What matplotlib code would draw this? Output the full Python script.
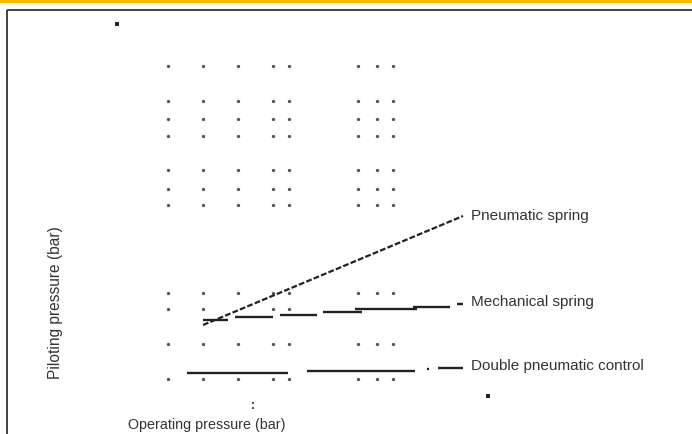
import matplotlib
matplotlib.use("Agg")
import matplotlib.pyplot as plt

# --------------------------------------------------------------------------
# Data (chart has no numeric scale -> values kept in drawing units)
# --------------------------------------------------------------------------
grid_cols = [168, 203, 238, 273, 289, 358, 377, 393]
grid_rows = [66, 101, 119, 136, 170, 189, 205, 293, 309, 344, 379]
grid_skip = [(238, 309), (358, 309), (377, 309), (393, 309)]   # hidden by lines

pneu_x = [203, 463]
pneu_y = [325, 216]

mech_x0 = [203, 235, 280, 323, 355, 413, 457]
mech_x1 = [228, 273, 317, 362, 417, 450, 463]
mech_y  = [320, 317.3, 315, 311.7, 309, 306.7, 304.3]

dbl_x0 = [187, 307, 427, 438]
dbl_x1 = [288, 415, 429, 463]
dbl_y  = [373.3, 371, 369.3, 368.3]

stray_x = [117, 488]
stray_y = [24, 396]
colon_x = [253, 253]
colon_y = [403, 408]

labels   = ["Pneumatic spring", "Mechanical spring", "Double pneumatic control"]
label_y  = [216, 302, 366]
label_x  = 471

FONT = ["Liberation Sans", "DejaVu Sans"]
INK = "#222222"

fig = plt.figure(figsize=(6.92, 4.34), dpi=100)
ax = fig.add_axes([0, 0, 1, 1])
ax.set_xlim(0, 692)
ax.set_ylim(434, 0)
ax.axis("off")

# frame: orange strip, black top rule and left rule
ax.axhspan(0, 2.5, color="#F7B900", lw=0)
ax.plot([6.5, 692], [10, 10], color="#333333", lw=1.3, solid_capstyle="butt")
ax.plot([6.5, 6.5], [10, 434], color="#333333", lw=1.3, solid_capstyle="butt")

# dotted grid
gx, gy = [], []
for r in grid_rows:
    for c in grid_cols:
        if (c, r) not in grid_skip:
            gx.append(c); gy.append(r)
ax.plot(gx, gy, ls="none", marker="o", ms=2.4, color="#555555", mew=0)

# stray marks
ax.plot(stray_x, stray_y, ls="none", marker="s", ms=3.3, color="#222222", mew=0)
ax.plot(colon_x, colon_y, ls="none", marker="s", ms=1.8, color="#555555", mew=0)

# curves
ax.plot(pneu_x, pneu_y, color=INK, lw=1.6, dashes=(2.6, 1.0))
ax.hlines(mech_y, mech_x0, mech_x1, color=INK, lw=1.7)
ax.hlines(dbl_y, dbl_x0, dbl_x1, color=INK, lw=1.7)

for txt, y in zip(labels, label_y):
    ax.text(label_x, y, txt, family=FONT, fontsize=11, color="#333333",
            ha="left", va="center")

ax.text(207, 425, "Operating pressure (bar)", family=FONT, fontsize=10.3,
        color="#333333", ha="center", va="center")
ax.text(56, 303, "Piloting pressure (bar)", family=FONT, fontsize=11.2,
        color="#333333", ha="center", va="center", rotation=90)

fig.savefig("out.png", dpi=100)
